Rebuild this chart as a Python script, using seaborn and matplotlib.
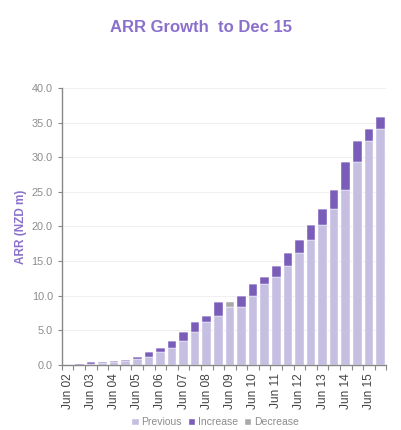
import numpy as np
import pandas as pd
import matplotlib
matplotlib.use("Agg")
import matplotlib.pyplot as plt
import seaborn as sns
from matplotlib.patches import Patch

periods = []
for yr in range(2, 16):
    periods.append(f"Jun {yr:02d}")
    periods.append(f"Dec {yr:02d}")

previous = [0.0, 0.0, 0.15, 0.22, 0.36, 0.55, 0.80, 1.09, 1.86, 2.44, 3.40, 4.70, 6.10, 7.03,
            8.35, 8.35, 9.93, 11.71, 12.68, 14.28, 16.10, 18.04, 20.17, 22.54, 25.24, 29.30, 32.35, 34.08]
increase = [0.02, 0.05, 0.20, 0.14, 0.19, 0.17, 0.29, 0.77, 0.58, 0.96, 1.30, 1.40, 0.93, 1.97,
            0.0, 1.58, 1.78, 0.97, 1.60, 1.82, 1.94, 2.13, 2.37, 2.70, 4.06, 3.05, 1.73, 1.75]
decrease = [0.0] * 14 + [0.65] + [0.0] * 13

y_ticks = [0, 5, 10, 15, 20, 25, 30, 35, 40]

df = pd.DataFrame({"period": periods, "Previous": previous,
                   "Increase": increase, "Decrease": decrease})
df["base2"] = df["Previous"] + df["Increase"]

c_prev = "#c6bfe2"
c_inc = "#7a5cb9"
c_dec = "#a9a9a9"
title_c = "#8a70cc"

sns.set_style("white")
plt.rcParams["font.family"] = ["Liberation Sans", "DejaVu Sans"]

fig = plt.figure(figsize=(4.02, 4.30), dpi=100)
ax = fig.add_axes([0.154, 0.152, 0.807, 0.643])

bw = 0.74
sns.barplot(data=df, x="period", y="Previous", color=c_prev, width=bw, ax=ax,
            saturation=1, edgecolor="white", linewidth=0.3)
sns.barplot(data=df, x="period", y="Increase", color=c_inc, width=bw, ax=ax,
            saturation=1, bottom=df["Previous"], edgecolor="white", linewidth=0.3)
sns.barplot(data=df, x="period", y="Decrease", color=c_dec, width=bw, ax=ax,
            saturation=1, bottom=df["base2"], edgecolor="white", linewidth=0.3)

ax.set_xlim(-0.5, len(periods) - 0.5)
ax.set_ylim(0, 40)
ax.set_yticks(y_ticks)
ax.set_yticklabels([f"{v:.1f}" for v in y_ticks], color="#8c8c8c", fontsize=7.8)
ax.yaxis.grid(True, color="#f0f0f0", linewidth=0.8)
ax.set_axisbelow(True)

major = np.arange(0, len(periods), 2)
ax.set_xticks(major)
ax.set_xticklabels([periods[i] for i in major], rotation=90, fontsize=8.6, color="#444444")
ax.set_xticks(np.arange(-0.5, len(periods), 1), minor=True)
ax.tick_params(axis="x", which="major", length=0, pad=6)
ax.tick_params(axis="x", which="minor", length=3.5, color="#888888", width=0.8, bottom=True)
ax.tick_params(axis="y", length=3, color="#888888", width=0.8, left=True)

for s in ["top", "right"]:
    ax.spines[s].set_visible(False)
for s in ["left", "bottom"]:
    ax.spines[s].set_color("#888888")
    ax.spines[s].set_linewidth(1.0)

ax.set_xlabel("")
ax.set_ylabel("ARR (NZD m)", color=title_c, fontsize=8.5, fontweight="bold", labelpad=3)

fig.text(0.5, 0.937, "ARR Growth  to Dec 15", ha="center", va="center",
         fontsize=12, fontweight="bold", color=title_c)

handles = [Patch(facecolor=c_prev, label="Previous"),
           Patch(facecolor=c_inc, label="Increase"),
           Patch(facecolor=c_dec, label="Decrease")]
leg = fig.legend(handles=handles, loc="center", bbox_to_anchor=(0.535, 0.019), ncol=3,
                 frameon=False, fontsize=7.5, handlelength=0.7, handleheight=0.7,
                 handletextpad=0.25, columnspacing=0.6)
for t in leg.get_texts():
    t.set_color("#8c8c8c")

fig.savefig("out.png", dpi=100)
